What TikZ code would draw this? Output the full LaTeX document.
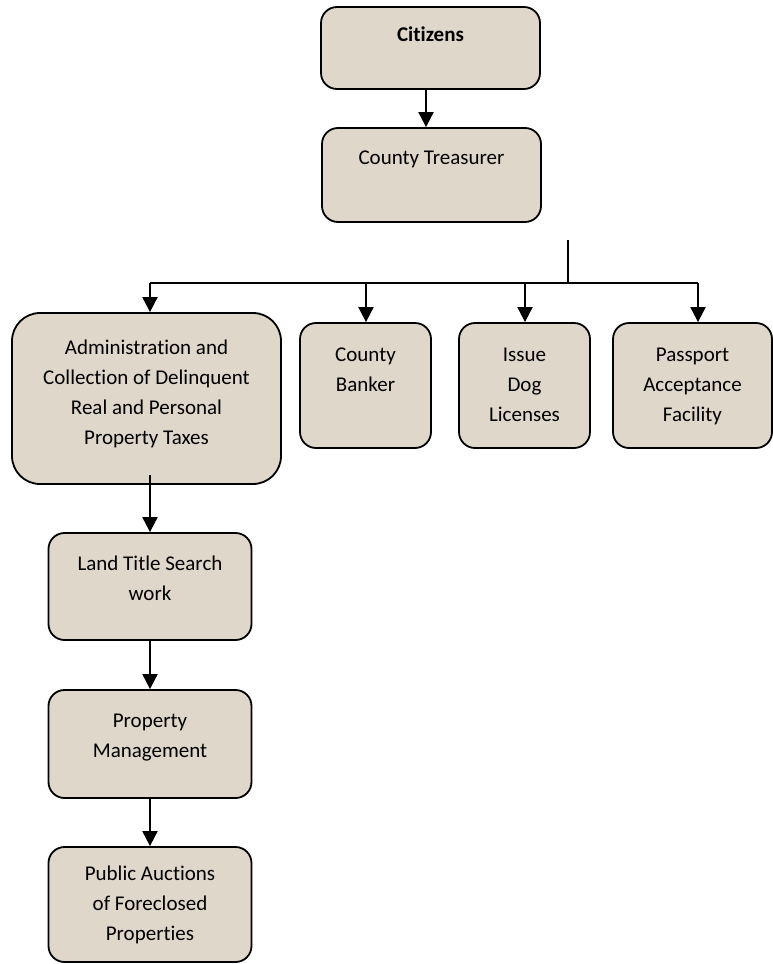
\documentclass[tikz,border=0pt]{standalone}
\usepackage{fontspec}
\setmainfont[Ligatures=NoCommon]{Carlito}
\usetikzlibrary{arrows.meta}
\definecolor{paper}{RGB}{222,215,202}
\begin{document}
\begin{tikzpicture}[x=1pt,y=-1pt,
  box/.style={draw,line width=1.8pt,fill=paper,rounded corners=16pt,align=center,
    inner sep=0pt,font=\fontsize{21}{30}\selectfont},
  arr/.style={line width=2pt,-{Triangle[length=15pt,width=15pt]}}]
\useasboundingbox (0,0) rectangle (773,964);
% top of the chart
\node[box,minimum width=219pt,minimum height=82pt,text depth=27pt] (cit) at (430.5,48) {\textbf{Citizens}};
\node[box,minimum width=219pt,minimum height=94pt,text depth=35pt] (tre) at (431.5,175) {County Treasurer};
\coordinate (c1) at (426,0);
\draw[arr] (c1 |- cit.south) -- (c1 |- tre.north);

% second row
\node[box,rounded corners=28pt,minimum width=269pt,minimum height=171pt,text depth=13pt] (adm) at (146.5,398.5)
  {Administration and\\Collection of Delinquent\\Real and Personal\\Property Taxes};
\node[box,minimum width=131pt,minimum height=125pt,text depth=31pt] (bank) at (365.5,385.5) {County\\Banker};
\node[box,minimum width=131pt,minimum height=125pt,text depth=1pt] (dog) at (524.5,385.5) {Issue\\Dog\\Licenses};
\node[box,minimum width=159pt,minimum height=125pt,text depth=1pt] (pass) at (692.5,385.5) {Passport\\Acceptance\\Facility};

% bus from the treasurer
\coordinate (stub) at (568,240);
\coordinate (bA) at (150,283);
\coordinate (bB) at (366,283);
\coordinate (bD) at (525,283);
\coordinate (bP) at (698,283);
\draw[line width=2.6pt] (stub) -- (stub |- bA);
\draw[line width=2pt] (bA) -- (bP);
\draw[arr] (bA) -- (bA |- adm.north);
\draw[arr] (bB) -- (bB |- bank.north);
\draw[arr] (bD) -- (bD |- dog.north);
\draw[arr] (bP) -- (bP |- pass.north);

% chain under the administration box
\node[box,minimum width=203pt,minimum height=107pt,text depth=16pt] (land) at (150,586.5) {Land Title Search\\work};
\node[box,minimum width=203pt,minimum height=108pt,text depth=17pt] (mgmt) at (150,744) {Property\\Management};
\node[box,minimum width=203pt,minimum height=115pt,text depth=2pt] (auct) at (150,904.5) {Public Auctions\\of Foreclosed\\Properties};
\draw[arr] (bA |- 0,475) -- (land.north);
\draw[arr] (land) -- (mgmt);
\draw[arr] (mgmt) -- (auct);

\end{tikzpicture}
\end{document}
